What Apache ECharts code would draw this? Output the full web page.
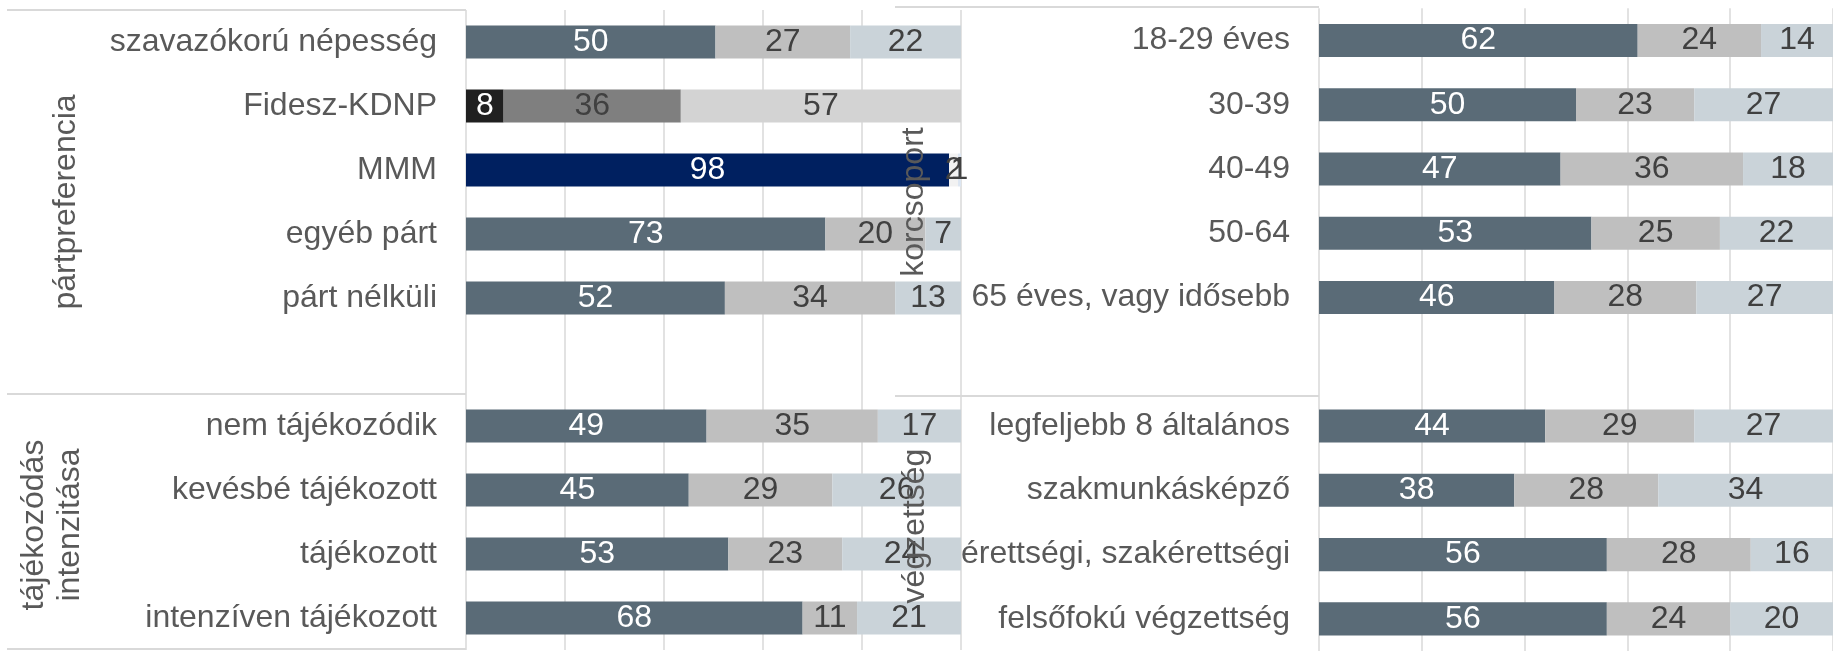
<!DOCTYPE html>
<html>
<head>
<meta charset="utf-8">
<script src="https://cdn.jsdelivr.net/npm/echarts@6/dist/echarts.min.js"></script>
<style>
  html, body { margin: 0; padding: 0; background: #fff; }
  #chart { width: 1833px; height: 651px; }
</style>
</head>
<body>
<div id="chart"></div>
<script>
// left column groups
const partCats = ['szavazókorú népesség', 'Fidesz-KDNP', 'MMM', 'egyéb párt', 'párt nélküli'];
const partA = [50.4, 7.6, 97.6, 72.6, 52.3];
const partB = [27.2, 35.8, 1.8, 20.2, 34.4];
const partC = [22.4, 56.6, 0.6, 7.2, 13.3];

const tajCats = ['nem tájékozódik', 'kevésbé tájékozott', 'tájékozott', 'intenzíven tájékozott'];
const tajA = [48.6, 45, 53, 68];
const tajB = [34.6, 29, 23, 11];
const tajC = [16.8, 26, 24, 21];

// right column groups
const korCats = ['18-29 éves', '30-39', '40-49', '50-64', '65 éves, vagy idősebb'];
const korA = [62, 50, 47, 53, 45.8];
const korB = [24, 23, 35.5, 25, 27.6];
const korC = [14, 27, 17.5, 22, 26.6];

const vegCats = ['legfeljebb 8 általános', 'szakmunkásképző', 'érettségi, szakérettségi', 'felsőfokú végzettség'];
const vegA = [44, 38, 56, 56];
const vegB = [29, 28, 28, 24];
const vegC = [27, 34, 16, 20];

const FONT = '"Liberation Sans", Arial, sans-serif';
const FONT_SIZE = 32;
const TEXT = '#595959';
const GRID_LINE = '#d9d9d9';
const DEFAULT_COLORS = ['#5a6b77', '#bfbfbf', '#cad3d9'];
const ROW_COLORS = {
  'Fidesz-KDNP': ['#202020', '#7f7f7f', '#d3d3d3'],
  'MMM': ['#002060', '#f2f2f2', '#dce6f2']
};
const LABEL_COLORS = ['#ffffff', '#404040', '#404040'];

const leftCats = partCats.concat([''], tajCats);
const rightCats = korCats.concat([''], vegCats);
const leftVals = [partA.concat(['-'], tajA), partB.concat(['-'], tajB), partC.concat(['-'], tajC)];
const rightVals = [korA.concat(['-'], vegA), korB.concat(['-'], vegB), korC.concat(['-'], vegC)];

function makeSeries(cats, vals, idx) {
  return vals.map((arr, s) => ({
    type: 'bar',
    stack: 'side' + idx,
    xAxisIndex: idx,
    yAxisIndex: idx,
    barWidth: '51.5%',
    silent: true,
    label: {
      show: true,
      position: 'inside',
      fontFamily: FONT,
      fontSize: FONT_SIZE,
      formatter: p => Math.round(p.value)
    },
    data: arr.map((v, i) => {
      const colors = ROW_COLORS[cats[i]] || DEFAULT_COLORS;
      return {
        value: v,
        itemStyle: { color: colors[s] },
        label: { color: LABEL_COLORS[s] }
      };
    })
  }));
}

function xAxis(idx) {
  return {
    type: 'value', gridIndex: idx, min: 0, max: 100, interval: 20,
    axisLabel: { show: false }, axisLine: { show: false }, axisTick: { show: false },
    splitLine: { show: true, lineStyle: { color: GRID_LINE, width: 1.5 } }
  };
}

function yAxis(idx, cats) {
  return {
    type: 'category', gridIndex: idx, inverse: true, data: cats,
    axisLine: { show: false }, axisTick: { show: false },
    axisLabel: { fontFamily: FONT, fontSize: FONT_SIZE, color: TEXT, margin: 29 }
  };
}

function groupTitle(text, x, y) {
  return {
    type: 'text', x: x, y: y, rotation: Math.PI / 2, z: 100,
    style: {
      text: text, fill: TEXT, fontFamily: FONT, fontSize: FONT_SIZE, lineHeight: 36,
      align: 'center', verticalAlign: 'middle'
    }
  };
}

function hLine(x1, x2, y) {
  return {
    type: 'line', z: 100, silent: true,
    shape: { x1: x1, y1: y, x2: x2, y2: y },
    style: { stroke: GRID_LINE, lineWidth: 2 }
  };
}

const chart = echarts.init(document.getElementById('chart'));
chart.setOption({
  animation: false,
  backgroundColor: '#fff',
  grid: [
    { left: 466, top: 10, width: 495, height: 640 },
    { left: 1319, top: 8.3, width: 523, height: 647 }
  ],
  xAxis: [xAxis(0), xAxis(1)],
  yAxis: [yAxis(0, leftCats), yAxis(1, rightCats)],
  series: makeSeries(leftCats, leftVals, 0).concat(makeSeries(rightCats, rightVals, 1)),
  graphic: [
    hLine(7, 466, 10),
    hLine(7, 466, 394),
    hLine(7, 466, 649),
    hLine(895, 1319, 7),
    hLine(895, 1319, 396),
    groupTitle('pártpreferencia', 66, 202),
    groupTitle('tájékozódás\nintenzitása', 52, 525),
    groupTitle('korcsoport', 914, 202),
    groupTitle('végzettség', 915, 526)
  ]
});
</script>
</body>
</html>
